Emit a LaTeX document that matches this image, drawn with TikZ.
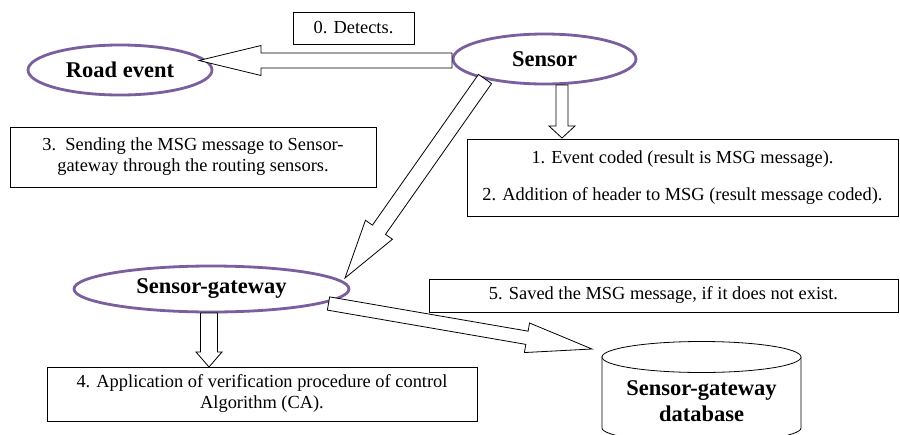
\documentclass[tikz,border=0pt]{standalone}
\usepackage{fontspec}
\setmainfont{Liberation Serif}
\usetikzlibrary{shapes.geometric,calc}
\definecolor{evpurple}{RGB}{122,94,158}
\tikzset{
 ev/.style={ellipse, draw=evpurple, line width=2.8pt, fill=white, font=\fontsize{22.5}{26}\selectfont\bfseries, inner sep=0pt},
 txtbox/.style={draw=black, line width=0.9pt, fill=white, font=\fontsize{18.4}{21}\selectfont, align=center, inner sep=0pt},
 blk/.style={draw=black, line width=0.8pt, fill=white, line join=miter},
 dbtext/.style={font=\fontsize{22.5}{26}\selectfont\bfseries, align=center, inner sep=0pt},
}
\newcommand{\blkarrow}[5]{%
 \coordinate (bah) at ($(#2)!#5pt!(#1)$);
 \draw[blk] ($(#1)!#3pt!90:(#2)$) -- ($(bah)!#3pt!-90:(#1)$) -- ($(bah)!#4pt!-90:(#1)$) -- (#2) -- ($(bah)!#4pt!90:(#1)$) -- ($(bah)!#3pt!90:(#1)$) -- ($(#1)!#3pt!-90:(#2)$) -- cycle;}
\begin{document}
\begin{tikzpicture}[x=1pt,y=-1pt]
\useasboundingbox (0,0) rectangle (900,434);
\clip (0,0) rectangle (900,434);
\fill[white] (0,0) rectangle (900,434);

% ellipses
\node[ev, minimum width=184, minimum height=50] (road) at (120,70) {Road event};
\node[ev, minimum width=183, minimum height=50] (sensor) at (544.5,59) {Sensor};
\node[ev, minimum width=275, minimum height=46] (gw) at (211.5,289) {Sensor-gateway};

% boxes
\node[txtbox, minimum width=121, minimum height=32] (det) at (353.5,28) {0. Detects.};
\node[txtbox, minimum width=366, minimum height=60] (b3) at (193,157) {3.\ \ Sending the MSG message to Sensor-\\gateway through the routing sensors.};
\node[txtbox, minimum width=431, minimum height=77] (b12) at (682.5,177.5) {1. Event coded (result is MSG message).\\[16pt]2. Addition of header to MSG (result message coded).};
\node[txtbox, minimum width=469, minimum height=33] (b5) at (663.5,295.5) {5. Saved the MSG message, if it does not exist.};
\node[txtbox, minimum width=430, minimum height=54] (b4) at (262,394) {4. Application of verification procedure of control\\Algorithm (CA).};

% database cylinder
\draw[blk] (602,357) -- (602,428) .. controls (602,436) and (650,443) .. (701.5,443) .. controls (753,443) and (801,436) .. (801,428) -- (801,357);
\draw[blk] (701.5,357) ellipse [x radius=99.5, y radius=15.5];
\node[dbtext] (db) at (701.5,401) {Sensor-gateway\\database};

% arrow end points
\coordinate (p0a) at (452,60.5);
\coordinate (p0b) at (199,60.5);
\coordinate (p1a) at (562,85);
\coordinate (p1b) at (562,138);
\coordinate (p3a) at (485,79);
\coordinate (p3b) at (345,278);
\coordinate (p4a) at (209,313);
\coordinate (p4b) at (209,367);
\coordinate (p5a) at (328.5,303.5);
\coordinate (p5b) at (592,349);

\blkarrow{p0a}{p0b}{7.5}{15}{62}
\blkarrow{p1a}{p1b}{6}{13}{12}
\blkarrow{p3a}{p3b}{8}{16.5}{59}
\blkarrow{p4a}{p4b}{8.5}{13}{15}
\blkarrow{p5a}{p5b}{6.7}{15}{66}
\end{tikzpicture}
\end{document}
